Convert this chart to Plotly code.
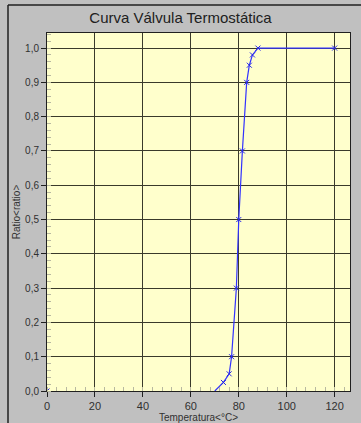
import plotly.graph_objects as go

temperatura = [0, 70, 73.6, 76, 77, 79, 80, 81.5, 83.3, 84.4, 85.7, 88, 120]
ratio = [0.0, 0.0, 0.025, 0.05, 0.1, 0.3, 0.5, 0.7, 0.9, 0.95, 0.98, 1.0, 1.0]
# points drawn with a marker (the 70 °C start of the rise has none)
marker_x = [0, 73.6, 76, 77, 79, 80, 81.5, 83.3, 84.4, 85.7, 88, 120]
marker_y = [0.0, 0.025, 0.05, 0.1, 0.3, 0.5, 0.7, 0.9, 0.95, 0.98, 1.0, 1.0]

fig = go.Figure()
# the 0..70 segment lies on the axis line in the original and is hidden there
fig.add_trace(go.Scatter(x=temperatura[1:], y=ratio[1:], mode="lines",
                         line=dict(color="rgb(50,50,255)", width=1.2),
                         hoverinfo="skip", showlegend=False))
fig.add_trace(go.Scatter(x=marker_x, y=marker_y, mode="markers",
                         marker=dict(symbol="x-thin", size=5,
                                     line=dict(color="rgb(40,40,230)", width=1)),
                         showlegend=False))

fig.update_layout(
    width=361, height=423,
    margin=dict(l=47, r=11, t=33, b=32),
    paper_bgcolor="#c0c0c0",
    plot_bgcolor="#ffffcc",
    separators=", ",
    font=dict(family="Liberation Sans, Arial, sans-serif", size=10, color="#303030"),
    title=dict(text="Curva Válvula Termostática", x=0.5, xanchor="center",
               y=1 - 18 / 423, yanchor="middle",
               font=dict(size=15, color="#202020")),
)
fig.update_xaxes(
    range=[0, 126.4], tickvals=[0, 20, 40, 60, 80, 100, 120],
    showgrid=True, gridcolor="#3a3a2a", gridwidth=1,
    showline=True, linecolor="#202020", linewidth=1, mirror=True,
    ticks="outside", ticklen=5, tickcolor="#202020",
    zeroline=False, automargin=False,
    minor=dict(dtick=4, ticks="inside", ticklen=4, tickcolor="#b8b8a0", showgrid=False),
    title=dict(text="Temperatura&lt;°C&gt;", standoff=1, font=dict(size=10, color="#303030")),
    tickfont=dict(size=11),
)
fig.update_yaxes(
    range=[0, 1.044], tickvals=[i / 10 for i in range(11)], tickformat=".1f",
    showgrid=True, gridcolor="#3a3a2a", gridwidth=1,
    showline=True, linecolor="#202020", linewidth=1, mirror=True,
    ticks="outside", ticklen=5, tickcolor="#202020",
    zeroline=False, automargin=False,
    minor=dict(dtick=0.02, ticks="inside", ticklen=4, tickcolor="#b8b8a0", showgrid=False),
    title=dict(text="Ratio&lt;ratio&gt;", standoff=2, font=dict(size=10, color="#303030")),
    tickfont=dict(size=10),
)
# panel frame (top and left edges)
fig.add_shape(type="line", xref="paper", yref="paper",
              x0=(8 - 47) / 303, x1=(361 - 47) / 303,
              y0=(423 - 5 - 32) / 358, y1=(423 - 5 - 32) / 358,
              line=dict(color="#202020", width=1.5))
fig.add_shape(type="line", xref="paper", yref="paper",
              x0=(8 - 47) / 303, x1=(8 - 47) / 303,
              y0=(0 - 32) / 358, y1=(423 - 5 - 32) / 358,
              line=dict(color="#202020", width=1.5))

fig.write_html("out.html", config={"displayModeBar": False},
               post_script="document.body.style.margin='0';")
